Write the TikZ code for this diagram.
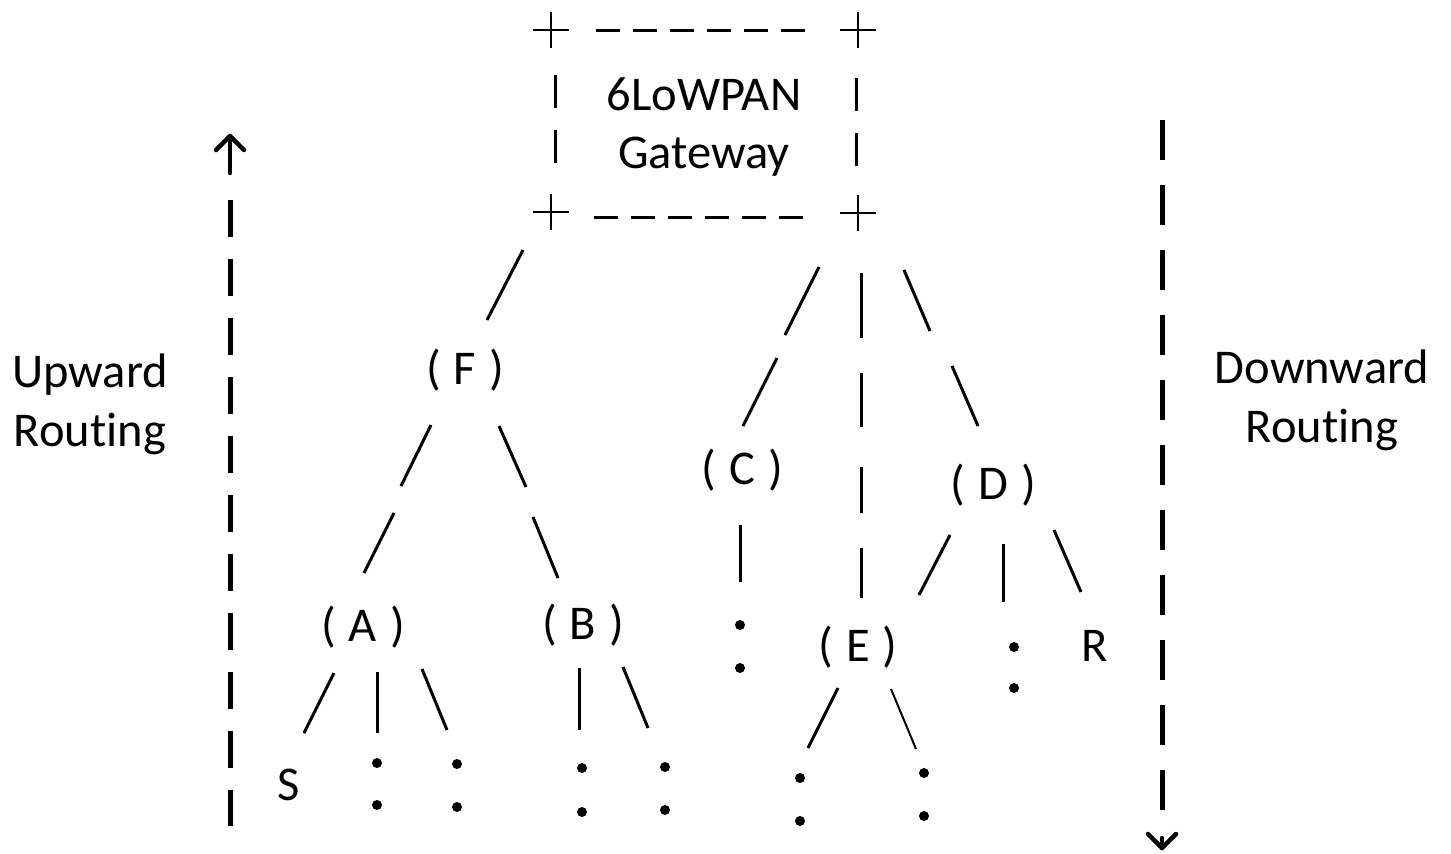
\documentclass[tikz,border=0pt]{standalone}
\usepackage{fontspec}
\setmainfont{Carlito}[Ligatures=NoCommon]
\newcommand{\pgap}{\hspace{0.27em}}
\begin{document}
\begin{tikzpicture}[x=1pt,y=-1pt,
  lbl/.style={inner sep=0pt,font=\fontsize{48.5}{59}\selectfont},
  seg/.style={line width=3pt},
  thinseg/.style={line width=2pt},
  framedash/.style={line width=3pt,dash pattern=on 23.5pt off 13.5pt},
  framevert/.style={line width=3pt,dash pattern=on 33pt off 22pt},
  corner/.style={line width=2pt},
  routedash/.style={line width=5pt},
  headline/.style={line width=4.5pt,line cap=round,line join=round},
  dotmark/.style={circle,fill=black,inner sep=0pt,minimum size=10pt}]
\useasboundingbox (0,0) rectangle (1451,854);

% gateway box drawn with ASCII-like corners and dashes
\foreach \cx/\cy in {551/30,858/30,551/212,858/213}{
  \draw[corner] (\cx-18,\cy) -- (\cx+18,\cy) (\cx,\cy-18) -- (\cx,\cy+18);
}
\draw[framedash] (596,30) -- (806,30);
\draw[framedash] (594,217) -- (804,217);
\draw[framevert] (555,75) -- (555,164);
\draw[framevert] (856,78) -- (856,167);
\node[lbl,align=center,font=\fontsize{48.5}{58}\selectfont] (gw) at (704,127) {6LoWPAN\\Gateway};

% tree nodes
\node[lbl] (F) at (465,370) {(\pgap F\pgap)};
\node[lbl] (A) at (363,627) {(\pgap A\pgap)};
\node[lbl] (B) at (583,625) {(\pgap B\pgap)};
\node[lbl] (C) at (742,470) {(\pgap C\pgap)};
\node[lbl] (D) at (993,485) {(\pgap D\pgap)};
\node[lbl] (E) at (858,647) {(\pgap E\pgap)};
\node[lbl] (S) at (289,785) {S};
\node[lbl] (R) at (1095,646) {R};

% side labels
\node[lbl,align=center] (up) at (90,404) {Upward\\Routing};
\node[lbl,align=center] (down) at (1322,400) {Downward\\Routing};

% links: gateway to F, C, E, D
\draw[seg] (523,250) -- (487,320);
\draw[seg] (819,267) -- (785,335) (777,358) -- (743,426);
\draw[seg] (861,273) -- (861,338) (861,373) -- (861,427)
           (861,467) -- (861,513) (861,548) -- (861,598);
\draw[seg] (904,270) -- (930,331) (952,366) -- (978,426);

% links below F
\draw[seg] (431,425) -- (401,486) (394,513) -- (364,573);
\draw[seg] (499,426) -- (526,487) (533,517) -- (558,578);

% links below A and B
\draw[seg] (334,673) -- (304,733);
\draw[seg] (377,672) -- (377,733);
\draw[seg] (422,669) -- (447,730);
\draw[seg] (579,668) -- (579,730);
\draw[seg] (623,667) -- (648,728);

% links below C, D and E
\draw[seg] (740,525) -- (740,582);
\draw[seg] (950,535) -- (919,595);
\draw[seg] (1003,544) -- (1003,602);
\draw[seg] (1054,530) -- (1081,592);
\draw[seg] (838,688) -- (808,748);
\draw[thinseg] (891,689) -- (916,749);

% continuation dots
\foreach \px/\py in {740/625,740/668, 1014/647,1014/688,
  377/763,377/805, 457/764,457/807, 582/768,582/812, 665/767,665/810,
  800/778,800/821, 924/773,924/816}{
  \node[dotmark] at (\px,\py) {};
}

% upward routing arrow
\draw[headline] (230,173) -- (230,136);
\draw[headline] (216,150) -- (230,136) -- (244,150);
\draw[routedash,dash pattern=on 37pt off 22pt] (230,200) -- (230,826);

% downward routing arrow
\draw[routedash,dash pattern=on 40pt off 25pt] (1162,120) -- (1162,812);
\draw[headline] (1162,838) -- (1162,848);
\draw[headline] (1148,834) -- (1162,848) -- (1176,834);
\end{tikzpicture}
\end{document}
